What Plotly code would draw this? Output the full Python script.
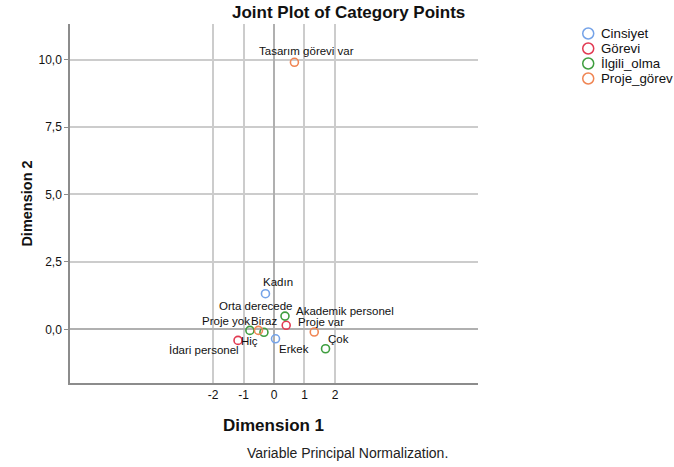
import plotly.graph_objects as go

# ---- data ----
variables = ["Cinsiyet", "Görevi", "İlgili_olma", "Proje_görev"]

cinsiyet_labels = ["Kadın", "Erkek"]
cinsiyet_x = [-0.28, 0.05]
cinsiyet_y = [1.32, -0.35]

gorevi_labels = ["Akademik personel", "İdari personel"]
gorevi_x = [0.40, -1.18]
gorevi_y = [0.15, -0.41]

ilgili_labels = ["Hiç", "Biraz", "Orta derecede", "Çok"]
ilgili_x = [-0.79, -0.33, 0.36, 1.69]
ilgili_y = [-0.04, -0.11, 0.49, -0.72]

proje_labels = ["Proje yok", "Proje var", "Tasarım görevi var"]
proje_x = [-0.51, 1.32, 0.67]
proje_y = [-0.04, -0.10, 9.90]

x_tick_vals = [-2, -1, 0, 1, 2]
x_tick_text = ["-2", "-1", "0", "1", "2"]
y_tick_vals = [0, 2.5, 5, 7.5, 10]
y_tick_text = ["0,0", "2,5", "5,0", "7,5", "10,0"]

# ---- styling ----
colors = ["#75a3e8", "#e23a52", "#3f9e3f", "#f08553"]
label_offsets = {  # pixels (dx right, dy up)
    "Kadın": (13, 12), "Erkek": (18, -10),
    "Akademik personel": (59, 14), "İdari personel": (-34, -10),
    "Hiç": (0, -11), "Biraz": (0, 11), "Orta derecede": (-29, 10), "Çok": (13, 10),
    "Proje yok": (-32, 9), "Proje var": (7, 10), "Tasarım görevi var": (12, 11),
}

series = [
    (cinsiyet_labels, cinsiyet_x, cinsiyet_y),
    (gorevi_labels, gorevi_x, gorevi_y),
    (ilgili_labels, ilgili_x, ilgili_y),
    (proje_labels, proje_x, proje_y),
]

FONT = "Liberation Sans, Arial, sans-serif"
W, H = 674, 467
L, T = 69.5, 24
R = W - 478.5
B = H - 383
pw, ph = W - L - R, H - T - B


def px_to_paper(xp, yp):
    """pixel position -> paper coordinates"""
    return (xp - L) / pw, (H - B - yp) / ph


fig = go.Figure()
annotations = []
shapes = []
for name, color, (labs, xs, ys) in zip(variables, colors, series):
    fig.add_trace(go.Scatter(
        x=xs, y=ys, mode="markers", name=name, text=labs,
        marker=dict(symbol="circle-open", size=8, color=color,
                    line=dict(width=1.6, color=color)),
        hovertemplate="%{text}<extra>" + name + "</extra>",
        showlegend=False,
    ))
    for lab, xv, yv in zip(labs, xs, ys):
        dx, dy = label_offsets[lab]
        annotations.append(dict(
            x=xv, y=yv, xref="x", yref="y", text=lab, showarrow=False,
            xshift=dx, yshift=dy, font=dict(family=FONT, size=11.5, color="#111111"),
        ))

# manual legend (tight SPSS-like spacing)
for i, (name, color) in enumerate(zip(variables, colors)):
    yc = 33.5 + 15 * i
    cx, cy = px_to_paper(589, yc)
    shapes.append(dict(type="circle", xref="paper", yref="paper",
                       xsizemode="pixel", ysizemode="pixel",
                       xanchor=cx, yanchor=cy, x0=-5.5, x1=5.5, y0=-5.5, y1=5.5,
                       line=dict(color=color, width=1.5), fillcolor="rgba(0,0,0,0)"))
    tx, ty = px_to_paper(600, yc)
    annotations.append(dict(text=name, x=tx, y=ty, xref="paper", yref="paper",
                            showarrow=False, xanchor="left", yanchor="middle",
                            font=dict(family=FONT, size=13.3, color="#111111")))

tx, ty = px_to_paper(349, 12)
annotations.append(dict(text="<b>Joint Plot of Category Points</b>", x=tx, y=ty,
                        xref="paper", yref="paper", showarrow=False,
                        xanchor="center", yanchor="middle",
                        font=dict(family=FONT, size=17, color="#111111")))
d1x, d1y = px_to_paper(273, 425)
annotations.append(dict(text="<b>Dimension 1</b>", x=d1x, y=d1y,
                        xref="paper", yref="paper", showarrow=False,
                        xanchor="center", yanchor="middle",
                        font=dict(family=FONT, size=17, color="#111111")))
d2x, d2y = px_to_paper(26, 204)
annotations.append(dict(text="<b>Dimension 2</b>", x=d2x, y=d2y, textangle=-90,
                        xref="paper", yref="paper", showarrow=False,
                        xanchor="center", yanchor="middle",
                        font=dict(family=FONT, size=14.5, color="#111111")))
fx, fy = px_to_paper(348, 453)
annotations.append(dict(text="Variable Principal Normalization.", x=fx, y=fy,
                        xref="paper", yref="paper", showarrow=False,
                        xanchor="center", yanchor="middle",
                        font=dict(family=FONT, size=14, color="#222222")))

fig.update_layout(
    width=W, height=H,
    margin=dict(l=L, r=R, t=T, b=B, pad=0),
    paper_bgcolor="white", plot_bgcolor="white",
    font=dict(family=FONT, size=11, color="#111111"),
    showlegend=False,
    annotations=annotations,
    shapes=shapes,
    xaxis=dict(range=[-6.69, 6.69], tickmode="array", tickvals=x_tick_vals,
               ticktext=x_tick_text, showgrid=True, gridcolor="#cccccc", gridwidth=1.5,
               zeroline=True, zerolinecolor="#b0b0b0", zerolinewidth=1.5,
               showline=True, linecolor="#8c8c8c", linewidth=1.5,
               ticks="", tickfont=dict(family=FONT, size=12, color="#111111"),
               fixedrange=True),
    yaxis=dict(range=[-1.99, 11.32], tickmode="array", tickvals=y_tick_vals,
               ticktext=y_tick_text, showgrid=True, gridcolor="#cccccc", gridwidth=1.5,
               zeroline=True, zerolinecolor="#b0b0b0", zerolinewidth=1.5,
               showline=True, linecolor="#8c8c8c", linewidth=1.5,
               ticks="outside", ticklen=4, tickcolor="#8c8c8c", tickwidth=1,
               tickfont=dict(family=FONT, size=12, color="#111111"),
               fixedrange=True),
)

# remove the default page margin so the 674x467 figure fills the window exactly
fig.write_html("out.html",
               config={"displayModeBar": False},
               post_script="document.body.style.margin='0';document.body.style.overflow='hidden';")
